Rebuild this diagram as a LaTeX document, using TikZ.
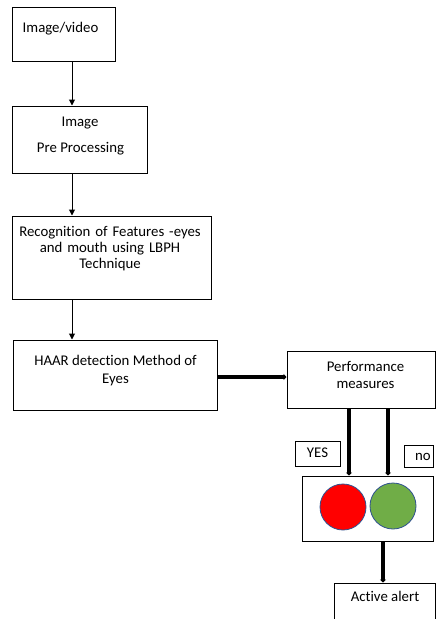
\documentclass[tikz,border=0pt]{standalone}
\usepackage{fontspec}
\setmainfont{Carlito}[Ligatures={NoCommon}]
\usetikzlibrary{arrows.meta}
\begin{document}
\begin{tikzpicture}[x=1pt,y=-1pt,
  box/.style={draw=black,line width=1pt,inner sep=0pt,fill=white},
  txt/.style={inner sep=0pt,align=center,font=\fontsize{14.8}{16}\selectfont},
  thinarrow/.style={line width=1pt,-{Triangle[length=6pt,width=6pt]}},
  thickarrow/.style={line width=3.2pt,-{Triangle[length=3pt,width=6pt]}},
  lamp/.style={circle,draw={rgb,255:red,47;green,82;blue,143},line width=0.8pt,minimum size=46pt,inner sep=0pt}]
\useasboundingbox (0,0) rectangle (436,619);
\clip (0,0) rectangle (436,619);
\fill[white] (0,0) rectangle (436,619);
% boxes
\node[box,minimum width=103pt,minimum height=54pt] (b1) at (63.5,34) {};
\node[box,minimum width=135pt,minimum height=67pt] (b2) at (79.5,139.5) {};
\node[box,minimum width=199pt,minimum height=83pt] (b3) at (111.5,257.5) {};
\node[box,minimum width=204pt,minimum height=70pt] (b4) at (115,375) {};
\node[box,minimum width=148pt,minimum height=57pt] (b5) at (361,379.5) {};
\node[box,minimum width=45pt,minimum height=25pt] (yes) at (317.5,453.5) {};
\node[box,minimum width=29pt,minimum height=22pt] (no) at (418.5,456) {};
\node[box,minimum width=131pt,minimum height=65pt] (lights) at (367.5,508.5) {};
\node[box,minimum width=101pt,minimum height=44pt] (alert) at (384.5,605) {};
\node[lamp,fill={rgb,255:red,255;green,0;blue,0}] (red) at (343,507) {};
\node[lamp,fill={rgb,255:red,112;green,173;blue,71}] (green) at (393,506) {};
% texts
\node[txt] (t1) at (60.5,29) {Image/video};
\node[txt] (t2a) at (80,123) {Image};
\node[txt] (t2b) at (80.5,149) {Pre Processing};
\node[txt,text width=200pt] (t3) at (110,249) {Recognition of Features -eyes\\and mouth using LBPH\\Technique};
\node[txt,font=\fontsize{14.8}{18}\selectfont] (t4) at (115.5,371) {HAAR detection Method of\\Eyes};
\node[txt,font=\fontsize{14.8}{17}\selectfont] (t5) at (365.5,374.5) {Performance\\measures};
\node[txt] (tyes) at (317.5,453) {YES};
\node[txt] (tno) at (423,457) {no};
\node[txt] (talert) at (385,596) {Active alert};
% axis coordinates
\coordinate (ax) at (72,0);
\coordinate (ay) at (0,377);
\coordinate (yx) at (349,0);
\coordinate (nx) at (388,0);
\coordinate (lx) at (383,0);
% connectors
\draw[thinarrow] (b1.south -| ax) -- (b2.north -| ax);
\draw[thinarrow] (b2.south -| ax) -- (b3.north -| ax);
\draw[thinarrow] (b3.south -| ax) -- (b4.north -| ax);
\draw[thickarrow] (b4.east |- ay) -- (b5.west |- ay);
\draw[thickarrow] (b5.south -| yx) -- (lights.north -| yx);
\draw[thickarrow] (b5.south -| nx) -- (lights.north -| nx);
\draw[thickarrow] (lights.south -| lx) -- (alert.north -| lx);
\end{tikzpicture}
\end{document}
